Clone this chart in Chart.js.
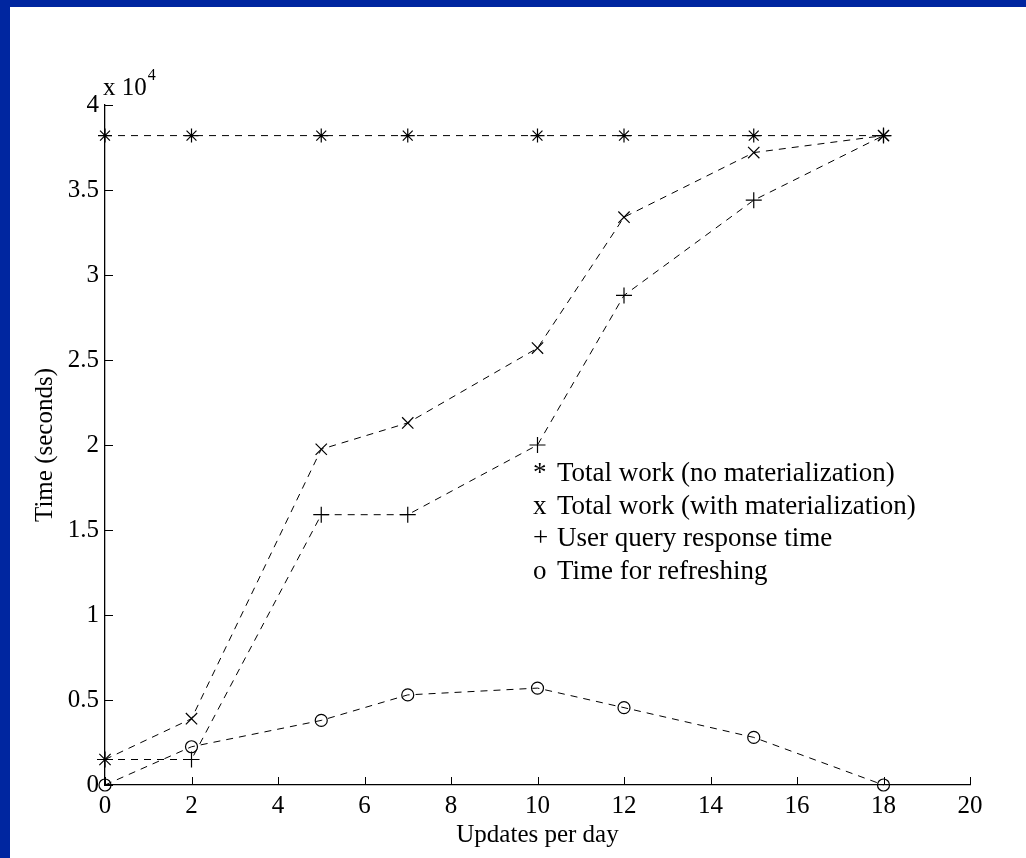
<!DOCTYPE html>
<html>
<head>
<meta charset="utf-8">
<script src="https://cdn.jsdelivr.net/npm/chart.js@4.4.1/dist/chart.umd.min.js"></script>
<style>
  html, body { margin: 0; padding: 0; background: #fff; }
  #box { width: 1026px; height: 858px; position: relative; }
</style>
</head>
<body>
<div id="box"><canvas id="myChart" width="1026" height="858"></canvas></div>
<script>
// updates per day (x) and times in seconds (y)
var updates = [0, 2, 5, 7, 10, 12, 15, 18];
var noMat    = [38200, 38200, 38200, 38200, 38200, 38200, 38200, 38200];
var withMat  = [1500, 3900, 19750, 21300, 25700, 33400, 37200, 38200];
var queryResp = [1500, 1500, 15900, 15900, 20000, 28800, 34400, 38200];
var refresh  = [0, 2250, 3800, 5300, 5700, 4550, 2800, 0];

var seriesNames = ['Total work (no materialization)', 'Total work (with materialization)',
                   'User query response time', 'Time for refreshing'];
var legendSymbols = ['*', 'x', '+', 'o'];
var xTicks = [0, 2, 4, 6, 8, 10, 12, 14, 16, 18, 20];
var yTicks = [0, 5000, 10000, 15000, 20000, 25000, 30000, 35000, 40000];

var FONT = "'Liberation Serif', 'Times New Roman', serif";

function pts(ys) {
    return ys.map(function(y, i) { return {x: updates[i], y: y}; });
}

function makeSet(label, ys, style, r) {
    return {
        label: label,
        data: pts(ys),
        borderColor: '#000',
        borderWidth: 1,
        borderDash: [7, 6],
        fill: false,
        tension: 0,
        clip: false,
        pointStyle: style,
        pointRadius: r,
        pointBorderColor: '#000',
        pointBackgroundColor: 'rgba(0,0,0,0)',
        pointBorderWidth: 1.2
    };
}

// blue frame, inward tick marks, the x10^4 note and the text legend
var decor = {
    id: 'decor',
    beforeDraw: function(chart) {
        var c = chart.ctx;
        c.save();
        c.fillStyle = '#fff';
        c.fillRect(0, 0, chart.width, chart.height);
        c.fillStyle = '#0026a0';
        c.fillRect(0, 0, chart.width, 7);
        c.fillRect(0, 0, 10, chart.height);
        c.restore();
    },
    afterDraw: function(chart) {
        var c = chart.ctx;
        var a = chart.chartArea;
        var xs = chart.scales.x, ys = chart.scales.y;
        c.save();
        c.strokeStyle = '#000';
        c.lineWidth = 1;
        c.beginPath();
        xTicks.forEach(function(t) {
            var px = Math.round(xs.getPixelForValue(t)) + 0.5;
            c.moveTo(px, a.bottom);
            c.lineTo(px, a.bottom - 8);
        });
        yTicks.forEach(function(t) {
            var py = Math.round(ys.getPixelForValue(t)) + 0.5;
            c.moveTo(a.left, py);
            c.lineTo(a.left + 8, py);
        });
        c.stroke();

        c.fillStyle = '#000';
        c.textBaseline = 'alphabetic';
        c.textAlign = 'left';
        c.font = '25px ' + FONT;
        c.fillText('x 10', a.left - 2, a.top - 10);
        var w = c.measureText('x 10').width;
        c.font = '16px ' + FONT;
        c.fillText('4', a.left - 1 + w, a.top - 25);

        c.font = '27px ' + FONT;
        for (var i = 0; i < seriesNames.length; i++) {
            var by = a.top + 376 + i * 32.7;
            c.fillText(legendSymbols[i], a.left + 428, by);
            c.fillText(seriesNames[i], a.left + 452, by);
        }
        c.restore();
    }
};

var ctx = document.getElementById('myChart').getContext('2d');
var myChart = new Chart(ctx, {
    type: 'line',
    data: {
        datasets: [
            makeSet(seriesNames[0], noMat, 'star', 7),
            makeSet(seriesNames[1], withMat, 'crossRot', 8),
            makeSet(seriesNames[2], queryResp, 'cross', 8),
            makeSet(seriesNames[3], refresh, 'circle', 6)
        ]
    },
    options: {
        responsive: false,
        animation: false,
        layout: { padding: { top: 105, right: 56, left: 0, bottom: 0 } },
        plugins: { legend: { display: false }, tooltip: { enabled: false } },
        scales: {
            x: {
                type: 'linear', min: 0, max: 20,
                afterBuildTicks: function(s) { s.ticks = xTicks.map(function(v) { return {value: v}; }); },
                afterFit: function(s) { s.height = 73; },
                grid: { display: false, drawTicks: false },
                border: { display: true, color: '#000', width: 1.3 },
                ticks: { color: '#000', padding: 6, maxRotation: 0, font: { family: FONT, size: 25 } },
                title: { display: true, text: 'Updates per day', color: '#000', padding: { top: 0, bottom: 8 },
                         font: { family: FONT, size: 25 } }
            },
            y: {
                type: 'linear', min: 0, max: 40000,
                afterBuildTicks: function(s) { s.ticks = yTicks.map(function(v) { return {value: v}; }); },
                afterFit: function(s) { s.width = 105; },
                grid: { display: false, drawTicks: false },
                border: { display: true, color: '#000', width: 1.3 },
                ticks: {
                    color: '#000', padding: 6, font: { family: FONT, size: 25 },
                    callback: function(v) { return String(v / 10000); }
                },
                title: { display: true, text: 'Time (seconds)', color: '#000', padding: { top: 30, bottom: 0 },
                         font: { family: FONT, size: 25 } }
            }
        }
    },
    plugins: [decor]
});
</script>
</body>
</html>
